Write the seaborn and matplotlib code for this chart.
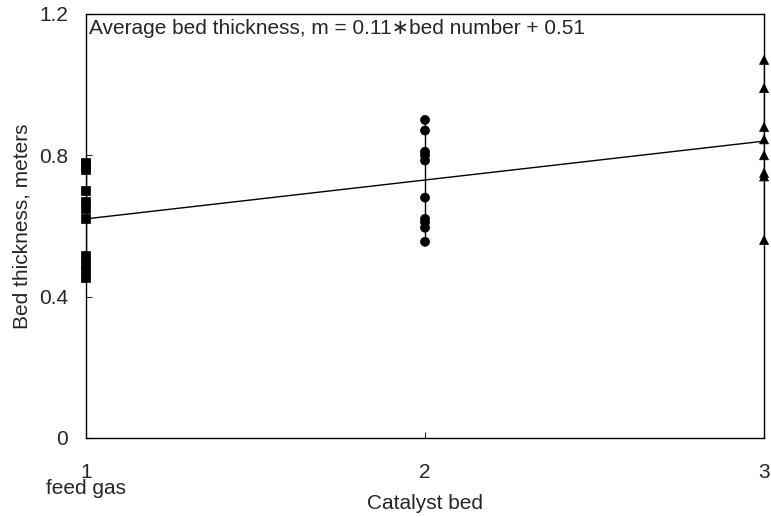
import numpy as np
import pandas as pd
import matplotlib
matplotlib.use("Agg")
import matplotlib.pyplot as plt
import seaborn as sns

# bed thickness measurements per catalyst bed (meters)
bed1 = [0.78, 0.77, 0.76, 0.70, 0.67, 0.65, 0.62, 0.515, 0.495, 0.475, 0.455]
bed2 = [0.90, 0.87, 0.81, 0.80, 0.785, 0.68, 0.62, 0.61, 0.595, 0.555]
bed3 = [1.07, 0.99, 0.88, 0.845, 0.80, 0.75, 0.74, 0.56]

fit_slope = 0.11
fit_intercept = 0.51
bed_numbers = [1, 2, 3]
x_ticklabels = ["1\nfeed gas", "2", "3"]

df = pd.DataFrame({
    "bed": [1] * len(bed1) + [2] * len(bed2) + [3] * len(bed3),
    "thickness": bed1 + bed2 + bed3,
})
df["group"] = df["bed"].astype(str)

sns.set_style("ticks")
plt.rcParams["font.family"] = ["Liberation Sans", "DejaVu Sans"]

fig = plt.figure(figsize=(7.71, 5.17), dpi=100)
ax = fig.add_axes([0.1115, 0.153, 0.8795, 0.82])

# range lines through each bed's points
for b, vals in zip(bed_numbers, [bed1, bed2, bed3]):
    ax.plot([b, b], [min(vals), max(vals)], color="black", lw=1, zorder=1)

sns.scatterplot(data=df, x="bed", y="thickness", style="group",
                markers={"1": "s", "2": "o", "3": "^"}, color="black",
                s=42, edgecolor="black", legend=False, ax=ax, zorder=3,
                clip_on=False)

xs = np.array(bed_numbers)
sns.lineplot(x=xs, y=fit_slope * xs + fit_intercept, color="black", lw=1, ax=ax)

fs = 15
ax.set_xlim(1, 3)
ax.set_ylim(0, 1.2)
ax.set_xticks(bed_numbers)
ax.set_xticklabels(x_ticklabels, fontsize=fs, linespacing=0.8)
ax.set_yticks([0, 0.4, 0.8, 1.2])
ax.set_yticklabels(["0", "0.4", "0.8", "1.2"], fontsize=fs)
ax.tick_params(direction="in", length=4, width=0.8)
ax.tick_params(axis="y", pad=13)
ax.tick_params(axis="x", pad=18)
for lbl in ax.get_xticklabels():
    lbl.set_horizontalalignment("center")
ax.set_xlabel("Catalyst bed", fontsize=fs, labelpad=-3)
ax.set_ylabel("Bed thickness, meters", fontsize=fs, labelpad=5)
for sp in ax.spines.values():
    sp.set_linewidth(1)
    sp.set_color("black")

ax.text(0.004, 0.988, "Average bed thickness, m = 0.11\u2217bed number + 0.51",
        transform=ax.transAxes, fontsize=fs, va="top", ha="left")

fig.savefig("out.png", dpi=100)
